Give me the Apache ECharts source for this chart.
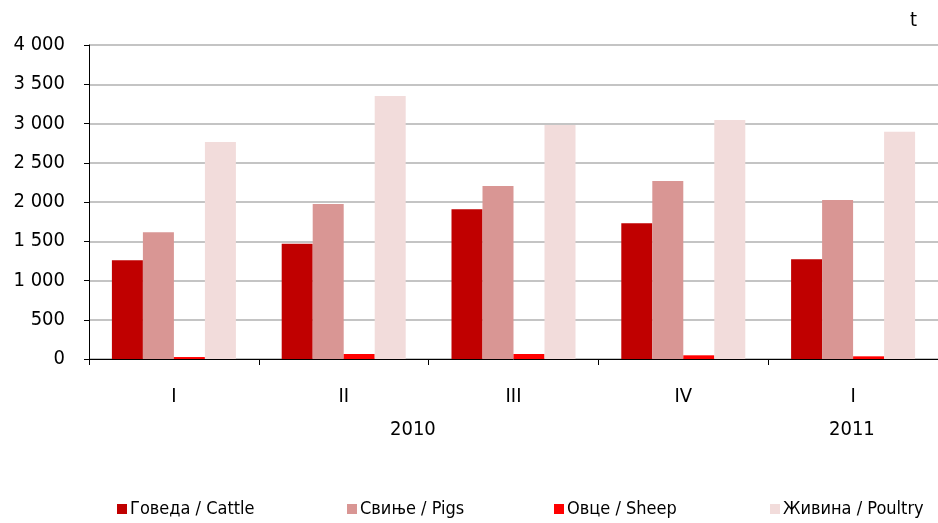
<!DOCTYPE html>
<html>
<head>
<meta charset="utf-8">
<script src="https://cdn.jsdelivr.net/npm/echarts@6/dist/echarts.min.js"></script>
<style>
  html, body { margin: 0; padding: 0; background: #fff; }
  #chart { width: 938px; height: 523px; }
</style>
</head>
<body>
<div id="chart"></div>
<script>
// quarters
const categories = ["I", "II", "III", "IV", "I"];
const years = ["2010", "2011"];
const cattle = [1257, 1469, 1907, 1728, 1270];
const pigs = [1614, 1975, 2204, 2268, 2025];
const sheep = [25, 64, 64, 47, 34];
const poultry = [2764, 3350, 2981, 3045, 2896];
const seriesNames = ["Говеда / Cattle", "Свиње / Pigs", "Овце / Sheep", "Живина / Poultry"];

const font = '"DejaVu Sans Condensed", "DejaVu Sans", sans-serif';
const colors = ["#C00000", "#D99694", "#FF0000", "#F2DCDB"];

function fmt(v) {
  if (v >= 1000) {
    return Math.floor(v / 1000) + " " + String(v % 1000).padStart(3, "0");
  }
  return String(v);
}

let myChart = echarts.init(document.getElementById("chart"));
const legendLeft = [112, 342, 549, 765];

myChart.setOption({
  animation: false,
  color: colors,
  textStyle: { fontFamily: font },
  grid: {
    left: 89,
    right: 0,
    top: 45,
    bottom: 164,
  },
  xAxis: {
    type: "category",
    data: categories,
    axisLine: { lineStyle: { color: "#000", width: 1 } },
    axisTick: { show: true, length: 6, lineStyle: { color: "#000" } },
    axisLabel: {
      margin: 28,
      fontSize: 20,
      color: "#000",
      fontFamily: font,
    },
    splitLine: { show: false },
  },
  yAxis: {
    type: "value",
    min: 0,
    max: 4000,
    interval: 500,
    axisLine: { show: true, lineStyle: { color: "#000", width: 1 } },
    axisTick: { show: true, length: 5, lineStyle: { color: "#000" } },
    axisLabel: {
      margin: 24,
      fontSize: 20,
      color: "#000",
      fontFamily: font,
      formatter: fmt,
    },
    splitLine: {
      show: true,
      lineStyle: { color: "#C4C4C4", width: 2 },
    },
  },
  legend: seriesNames.map((n, i) => ({
    data: [n],
    left: legendLeft[i],
    top: 495,
    itemWidth: 10,
    itemHeight: 10,
    itemGap: 0,
    icon: "rect",
    textStyle: { fontSize: 18, color: "#000", fontFamily: font, padding: [0, 0, 0, -2] },
  })),
  graphic: [
    {
      type: "text",
      left: 910,
      top: 11,
      style: { text: "t", fontSize: 20, fill: "#000", fontFamily: font },
    },
    {
      type: "text",
      left: 390,
      top: 420,
      style: { text: years[0], fontSize: 20, fill: "#000", fontFamily: font },
    },
    {
      type: "text",
      left: 829,
      top: 420,
      style: { text: years[1], fontSize: 20, fill: "#000", fontFamily: font },
    },
  ],
  series: [
    { name: seriesNames[0], type: "bar", data: cattle, barWidth: 31, barGap: "0%" },
    { name: seriesNames[1], type: "bar", data: pigs, barWidth: 31, barGap: "0%" },
    { name: seriesNames[2], type: "bar", data: sheep, barWidth: 31, barGap: "0%" },
    { name: seriesNames[3], type: "bar", data: poultry, barWidth: 31, barGap: "0%" },
  ],
});
</script>
</body>
</html>
